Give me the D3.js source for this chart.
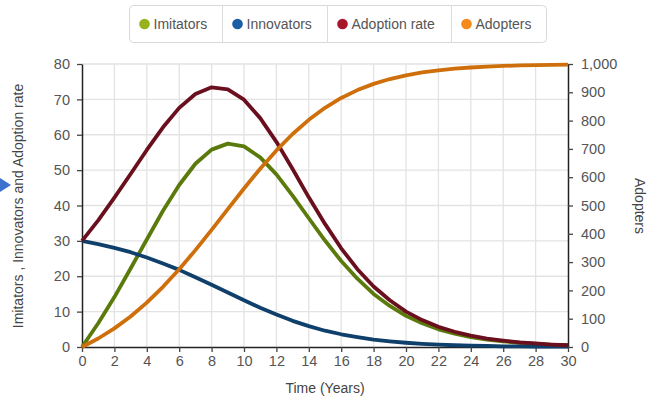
<!DOCTYPE html>
<html>
<head>
<meta charset="utf-8">
<script src="https://cdn.jsdelivr.net/npm/d3@7/dist/d3.min.js"></script>
<style>
  html, body { margin: 0; padding: 0; background: #fff; }
  svg { display: block; font-family: "Liberation Sans", Arial, sans-serif; }
</style>
</head>
<body>
<svg id="chart" width="652" height="398"></svg>
<script>
// Bass diffusion: yearly innovators, imitators, adoption rate and cumulative adopters
const years = d3.range(0, 31);
const innovators = [30, 29.1, 28.0, 26.8, 25.3, 23.6, 21.8, 19.7, 17.6, 15.4, 13.2, 11.1, 9.2, 7.4, 5.9, 4.6, 3.6, 2.8, 2.1, 1.6, 1.2, 0.9, 0.7, 0.5, 0.4, 0.3, 0.2, 0.2, 0.1, 0.1, 0.1];
const imitators = [0, 6.7, 14.1, 22.2, 30.4, 38.5, 45.8, 51.8, 55.8, 57.5, 56.7, 53.6, 48.8, 42.8, 36.4, 30.1, 24.3, 19.3, 15.0, 11.6, 8.8, 6.7, 5.0, 3.8, 2.8, 2.1, 1.6, 1.2, 0.9, 0.6, 0.5];
const adoptionRate = [30, 35.8, 42.2, 48.9, 55.7, 62.1, 67.6, 71.5, 73.4, 72.8, 69.9, 64.7, 58.0, 50.3, 42.3, 34.8, 27.9, 22.0, 17.1, 13.2, 10.0, 7.6, 5.7, 4.3, 3.2, 2.4, 1.8, 1.3, 1.0, 0.7, 0.5];
const adopters = [0, 30, 65.8, 108.0, 156.9, 212.6, 274.7, 342.3, 413.8, 487.2, 560.0, 629.9, 694.6, 752.6, 802.8, 845.1, 879.9, 907.8, 929.8, 946.9, 960.1, 970.1, 977.7, 983.4, 987.6, 990.8, 993.2, 994.9, 996.3, 997.2, 997.9];

const xTicks = d3.range(0, 31, 2);
const leftTicks = d3.range(0, 81, 10);
const rightTicks = d3.range(0, 1001, 100);

const seriesNames = ["Imitators", "Innovators", "Adoption rate", "Adopters"];
const dotColors = ["#94b31c", "#1a5ea6", "#a8162b", "#f5891c"];
const lineColors = ["#5b7a0c", "#0f3f6b", "#6a0f1e", "#cf6f0c"];

const svg = d3.select("#chart");
const plot = { left: 82, right: 568, top: 64, bottom: 347 };

const x = d3.scaleLinear().domain([0, 30]).range([plot.left, plot.right]);
const yL = d3.scaleLinear().domain([0, 80]).range([plot.bottom, plot.top]);
const yR = d3.scaleLinear().domain([0, 1000]).range([plot.bottom, plot.top]);

// grid
const grid = svg.append("g").attr("stroke", "#e3e3e3").attr("stroke-width", 1.3);
grid.selectAll("line.v").data(xTicks.filter(d => d > 0 && d < 30)).join("line")
  .attr("x1", d => x(d)).attr("x2", d => x(d))
  .attr("y1", plot.top).attr("y2", plot.bottom);
grid.selectAll("line.h").data(leftTicks.filter(d => d > 0)).join("line")
  .attr("x1", plot.left).attr("x2", plot.right)
  .attr("y1", d => yL(d)).attr("y2", d => yL(d));

// axes
function styleAxis(g) {
  g.selectAll(".domain").attr("stroke", "#222").attr("stroke-width", 1.5);
  g.selectAll(".tick line").attr("stroke", "#444").attr("stroke-width", 1.3);
  g.selectAll(".tick text").attr("fill", "#555").attr("font-size", 14.5)
    .attr("font-family", "'Liberation Sans', Arial, sans-serif");
}
svg.append("g").attr("transform", `translate(0,${plot.bottom})`)
  .call(d3.axisBottom(x).tickValues(xTicks).tickSize(5).tickSizeOuter(0).tickPadding(4))
  .call(styleAxis);
svg.append("g").attr("transform", `translate(${plot.left},0)`)
  .call(d3.axisLeft(yL).tickValues(leftTicks).tickSize(5).tickSizeOuter(0).tickPadding(7))
  .call(styleAxis);
svg.append("g").attr("transform", `translate(${plot.right},0)`)
  .call(d3.axisRight(yR).tickValues(rightTicks).tickSize(5).tickSizeOuter(0).tickPadding(8).tickFormat(d3.format(",")))
  .call(styleAxis);

// series lines
const seriesData = [
  { vals: imitators, y: yL },
  { vals: innovators, y: yL },
  { vals: adoptionRate, y: yL },
  { vals: adopters, y: yR }
];
seriesData.forEach((s, i) => {
  const line = d3.line().x((d, j) => x(years[j])).y(d => s.y(d));
  svg.append("path").datum(s.vals)
    .attr("fill", "none")
    .attr("stroke", lineColors[i])
    .attr("stroke-width", 3.8)
    .attr("stroke-linejoin", "round")
    .attr("d", line);
});

// axis titles
svg.append("text")
  .attr("transform", `translate(${(plot.left + plot.right) / 2},393) `)
  .attr("text-anchor", "middle").attr("fill", "#444").attr("font-size", 14)
  .text("Time (Years)");
svg.append("text")
  .attr("transform", `translate(23,206) rotate(-90)`)
  .attr("text-anchor", "middle").attr("fill", "#444").attr("font-size", 14)
  .text("Imitators , Innovators and Adoption rate");
svg.append("text")
  .attr("transform", `translate(635,206) rotate(90)`)
  .attr("text-anchor", "middle").attr("fill", "#444").attr("font-size", 14)
  .text("Adopters");

// legend
const legend = svg.append("g");
legend.append("rect")
  .attr("x", 129.5).attr("y", 5.5).attr("width", 417).attr("height", 37)
  .attr("rx", 4).attr("fill", "#fff").attr("stroke", "#d8d8d8");
const legendX = [129.5, 222.5, 327.5, 451.5, 546.5];
seriesNames.forEach((name, i) => {
  const g = legend.append("g");
  if (i > 0) {
    g.append("line").attr("x1", legendX[i]).attr("x2", legendX[i])
      .attr("y1", 6).attr("y2", 42).attr("stroke", "#dcdcdc");
  }
  g.append("circle").attr("cx", legendX[i] + 15).attr("cy", 24).attr("r", 5.3)
    .attr("fill", dotColors[i]);
  g.append("text").attr("x", legendX[i] + 24).attr("y", 29)
    .attr("fill", "#555").attr("font-size", 14).text(name);
});

// side handle
svg.append("path").attr("d", "M0,178 L11,185 L0,192 Z").attr("fill", "#3d73cf");
</script>
</body>
</html>
